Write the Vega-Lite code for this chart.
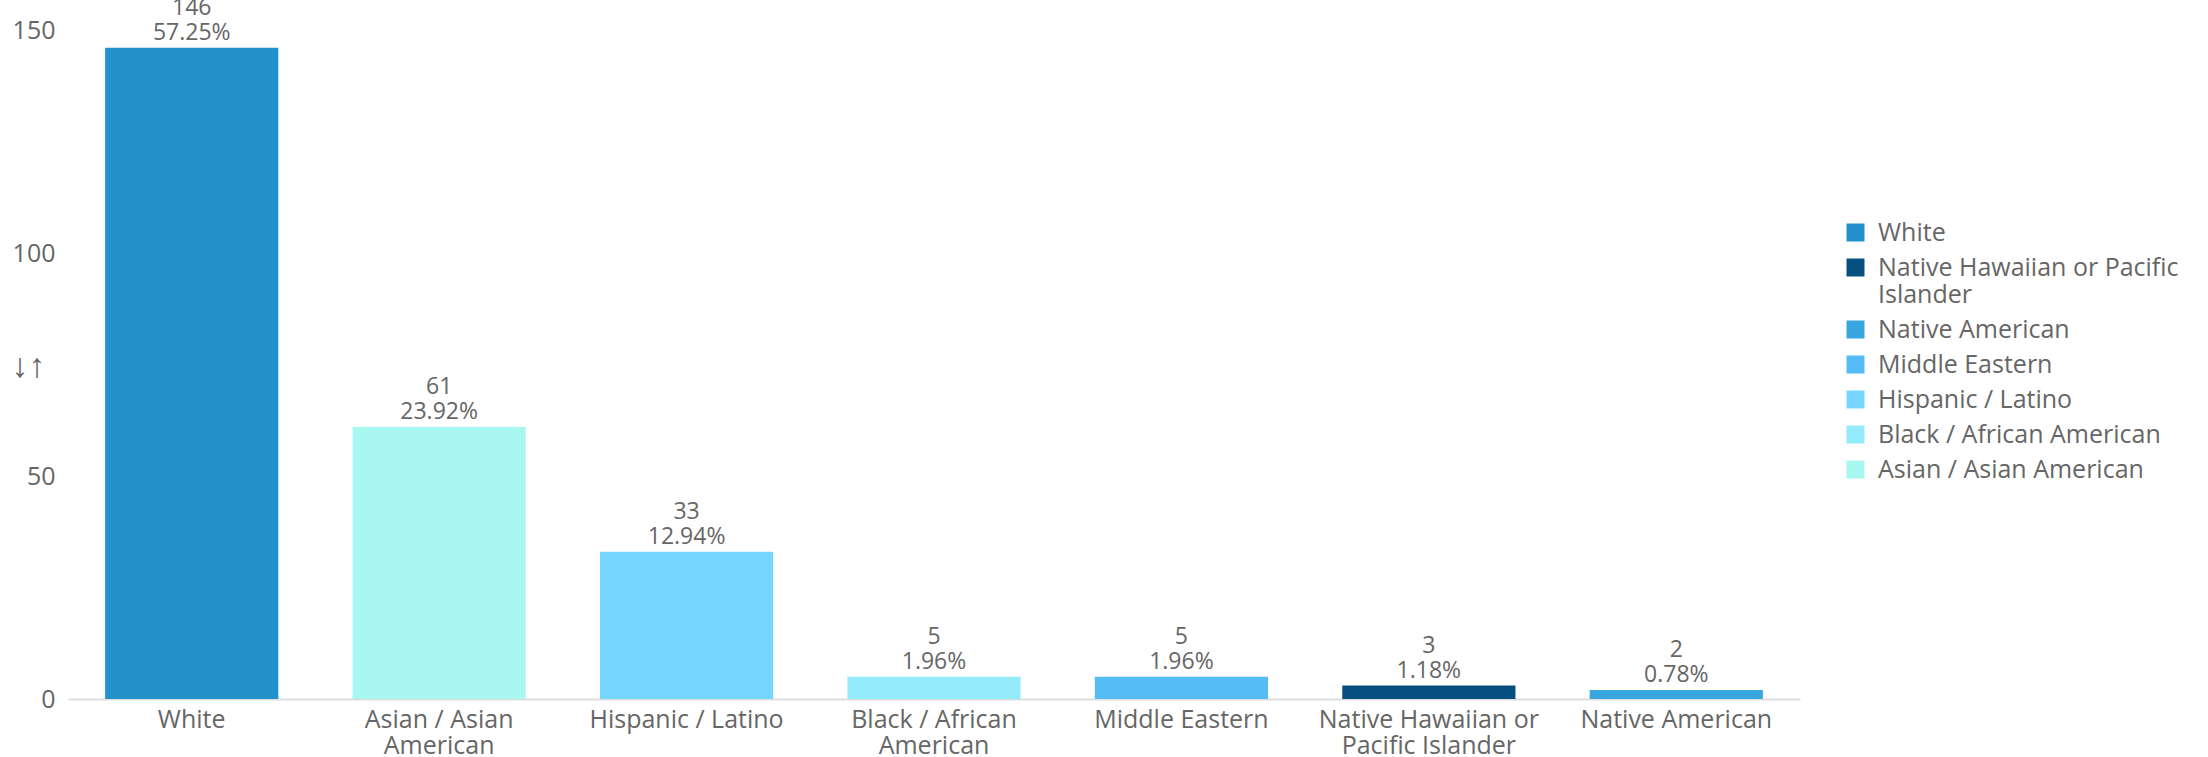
{
  "$schema": "https://vega.github.io/schema/vega-lite/v6.json",
  "width": 1732,
  "height": 669,
  "autosize": {"type": "none"},
  "padding": {"left": 68, "top": 30, "right": 408, "bottom": 58},
  "background": "white",
  "config": {
    "font": "Open Sans",
    "view": {"stroke": null}
  },
  "data": {
    "values": [
      {"group": "White", "count": 146, "pct": 0.5725},
      {"group": "Asian / Asian American", "count": 61, "pct": 0.2392},
      {"group": "Hispanic / Latino", "count": 33, "pct": 0.1294},
      {"group": "Black / African American", "count": 5, "pct": 0.0196},
      {"group": "Middle Eastern", "count": 5, "pct": 0.0196},
      {"group": "Native Hawaiian or Pacific Islander", "count": 3, "pct": 0.0118},
      {"group": "Native American", "count": 2, "pct": 0.0078}
    ]
  },
  "encoding": {
    "x": {
      "field": "group",
      "type": "nominal",
      "sort": ["White", "Asian / Asian American", "Hispanic / Latino", "Black / African American", "Middle Eastern", "Native Hawaiian or Pacific Islander", "Native American"],
      "scale": {"paddingInner": 0.3, "paddingOuter": 0.15},
      "axis": {
        "title": null,
        "labelAngle": 0,
        "ticks": false,
        "domainColor": "#dddddd",
        "domainWidth": 2,
        "labelFontSize": 25,
        "labelColor": "#666666",
        "labelPadding": 8,
        "labelLineHeight": 26,
        "labelLimit": 400,
        "labelExpr": "datum.label == 'Asian / Asian American' ? ['Asian / Asian', 'American'] : datum.label == 'Black / African American' ? ['Black / African', 'American'] : datum.label == 'Native Hawaiian or Pacific Islander' ? ['Native Hawaiian or', 'Pacific Islander'] : datum.label"
      }
    },
    "y": {
      "field": "count",
      "type": "quantitative",
      "scale": {"domain": [0, 150], "nice": false},
      "axis": {
        "values": [0, 50, 100, 150],
        "grid": false,
        "domain": false,
        "ticks": false,
        "labelFontSize": 25,
        "labelColor": "#666666",
        "labelPadding": 13,
        "title": "↓↑",
        "titleAngle": 0,
        "titleX": -40,
        "titleY": 336,
        "titleAlign": "center",
        "titleBaseline": "middle",
        "titleFontSize": 34,
        "titleFontWeight": "normal",
        "titleColor": "#666666"
      }
    }
  },
  "layer": [
    {
      "mark": {"type": "bar"},
      "encoding": {
        "color": {
          "field": "group",
          "type": "nominal",
          "scale": {
            "domain": ["White", "Native Hawaiian or Pacific Islander", "Native American", "Middle Eastern", "Hispanic / Latino", "Black / African American", "Asian / Asian American"],
            "range": ["#2391CC", "#06507F", "#38A7E0", "#54BBF5", "#76D6FF", "#94EBFB", "#A8F7F0"]
          },
          "legend": {
            "title": null,
            "orient": "none",
            "legendX": 1775,
            "legendY": 190,
            "symbolType": "square",
            "symbolSize": 324,
            "symbolStrokeWidth": 0,
            "labelFontSize": 25,
            "labelColor": "#666666",
            "labelOffset": 10,
            "labelLineHeight": 25,
            "labelLimit": 400,
            "rowPadding": 9,
            "labelExpr": "datum.label == 'Native Hawaiian or Pacific Islander' ? ['Native Hawaiian or Pacific', 'Islander'] : datum.label"
          }
        }
      }
    },
    {
      "mark": {"type": "text", "baseline": "middle", "dy": -15, "fontSize": 23, "color": "#666666"},
      "encoding": {
        "text": {"field": "pct", "type": "quantitative", "format": ".2%"}
      }
    },
    {
      "mark": {"type": "text", "baseline": "middle", "dy": -40, "fontSize": 23, "color": "#666666"},
      "encoding": {
        "text": {"field": "count", "type": "quantitative"}
      }
    }
  ]
}
